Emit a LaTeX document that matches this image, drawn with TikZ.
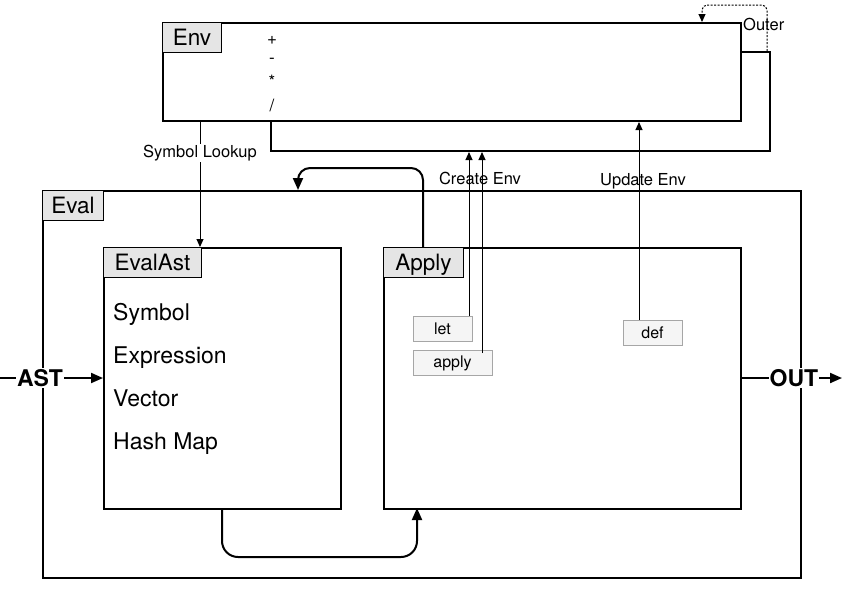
\documentclass[tikz,border=0pt]{standalone}
\usepackage{fontspec}
\setmainfont{TeX Gyre Heros}
\usetikzlibrary{arrows.meta,positioning}
\begin{document}
\begin{tikzpicture}[x=1pt,y=-1pt,
  frame/.style={draw, line width=2pt, fill=white, inner sep=0pt, anchor=north west},
  tagbox/.style={draw, line width=1pt, fill=black!10, inner sep=0pt, anchor=north west,
    font=\fontsize{22.5}{26}\selectfont, minimum height=30pt, text height=18pt, text depth=2pt},
  opbox/.style={draw=black!35, line width=0.8pt, fill=black!4, inner sep=0pt,
    font=\fontsize{16}{19}\selectfont, minimum height=25pt},
  item/.style={anchor=base west, inner sep=0pt, font=\fontsize{23}{26}\selectfont},
  sym/.style={inner sep=0pt, font=\fontsize{17}{20}\selectfont},
  lbl/.style={inner sep=1pt, font=\fontsize{16.5}{19}\selectfont},
  io/.style={inner sep=1pt, fill=white, font=\fontsize{23}{26}\selectfont\bfseries},
  flow/.style={line width=2pt, -{Triangle[length=12pt,width=10pt]}},
  link/.style={line width=1pt, -{Triangle[length=8pt,width=7pt]}}
]
\useasboundingbox (0,0) rectangle (842,595);

% outer environment, partly hidden behind the current one
\node[frame, minimum width=499pt, minimum height=99pt] (outerenv) at (270,51) {};
% current environment
\node[frame, minimum width=578pt, minimum height=98pt] (env) at (162,22) {};
\node[tagbox, minimum width=59pt] (envtag) at (env.north west) {Env};
\node[sym] (plus) at (272,40) {+};
\node[sym] (minus) at (272,61) {-};
\node[sym] (times) at (272,81) {*};
\node[sym] (divide) at (272,105) {/};

% evaluator
\node[frame, minimum width=758pt, minimum height=387pt] (eval) at (42,190) {};
\node[tagbox, minimum width=61pt] (evaltag) at (eval.north west) {Eval};

\node[frame, minimum width=237pt, minimum height=261pt] (evalast) at (103,247) {};
\node[tagbox, minimum width=98pt] (evalasttag) at (evalast.north west) {EvalAst};
\node[item] (isym) at (113,320) {Symbol};
\node[item] (iexpr) at (113,363) {Expression};
\node[item] (ivec) at (113,406) {Vector};
\node[item] (ihash) at (113,449) {Hash Map};

\node[frame, minimum width=357pt, minimum height=261pt] (apply) at (383,247) {};
\node[tagbox, minimum width=80pt] (applytag) at (apply.north west) {Apply};

\node[opbox, minimum width=59pt] (let) at (442.5,328.5) {let};
\node[opbox, minimum width=79pt] (applyop) at (452.5,363) {apply};
\node[opbox, minimum width=59pt] (def) at (652.5,333) {def};

% symbol lookup
\coordinate (lookup) at (200,120);
\draw[link] (lookup) -- (lookup |- evalast.north);
\node[lbl, fill=white] (lookuplbl) at (200,153) {Symbol Lookup};

% creating and updating environments
\draw[link] ([xshift=26.5pt]let.north) -- ([xshift=26.5pt]let.north |- outerenv.south);
\coordinate (applyfrom) at ([xshift=29.5pt,yshift=-3pt]applyop.north);
\draw[link] (applyfrom) -- (applyfrom |- outerenv.south);
\node[lbl] (createlbl) at (480,178) {Create Env};
\draw[link] ([xshift=-13.5pt]def.north) -- ([xshift=-13.5pt]def.north |- env.south);
\node[lbl] (updatelbl) at (643,181) {Update Env};

% outer reference
\coordinate (outerfrom) at ([xshift=-4pt]outerenv.north east);
\draw[line width=1pt, dash pattern=on 2pt off 1.5pt, rounded corners=5pt, -{Triangle[length=8pt,width=7pt]}]
  (outerfrom) -- ++(0,-46) -| (702,22);
\node[lbl, anchor=west] (outerlbl) at (742,24) {Outer};

% control flow inside eval
\draw[flow, rounded corners=12pt] (423,247) |- (298,168) -- (298,190);
\draw[flow, rounded corners=16pt] (222,508) |- (417,557) -- (417,508);

% input and output
\node[io] (ast) at (40,378) {AST};
\coordinate (inlet) at (0,378);
\draw[line width=2pt] (inlet) -- (ast);
\draw[flow] (ast) -- (evalast.west |- ast);
\node[io] (out) at (794,378) {OUT};
\coordinate (outlet) at (842,378);
\draw[line width=2pt] (apply.east |- out) -- (out);
\draw[flow] (out) -- (outlet);
\end{tikzpicture}
\end{document}
